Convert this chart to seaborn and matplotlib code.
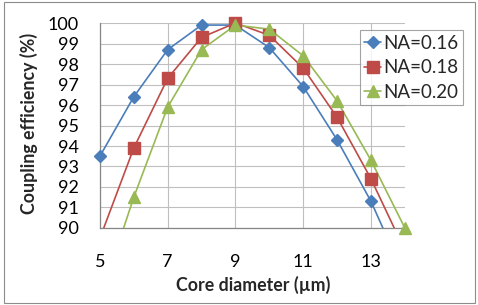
import matplotlib
matplotlib.use("Agg")
import matplotlib.pyplot as plt
import seaborn as sns
import numpy as np
import pandas as pd
from matplotlib.patches import Rectangle

# values
core_diameter = [5, 6, 7, 8, 9, 10, 11, 12, 13, 14]
na_016 = [93.5, 96.4, 98.7, 99.9, 99.9, 98.8, 96.9, 94.3, 91.3, 87.6]
na_018 = [89.5, 93.9, 97.3, 99.3, 100.0, 99.4, 97.8, 95.4, 92.4, 88.9]
na_020 = [86.5, 91.5, 95.9, 98.7, 99.9, 99.7, 98.4, 96.2, 93.3, 90.0]
series_names = ["NA=0.16", "NA=0.18", "NA=0.20"]
x_ticks = [5, 7, 9, 11, 13]
y_ticks = list(range(90, 101))

df = pd.DataFrame({"d": core_diameter, series_names[0]: na_016,
                   series_names[1]: na_018, series_names[2]: na_020})
df = df.melt(id_vars=["d"], var_name="series", value_name="eff")

sns.set_style("white")
plt.rcParams["font.family"] = ["Lato", "DejaVu Sans"]

colors = {"NA=0.16": "#4A7EBB", "NA=0.18": "#BE4B48", "NA=0.20": "#98B954"}
markers = {"NA=0.16": "D", "NA=0.18": "s", "NA=0.20": "^"}
msizes = {"NA=0.16": 6, "NA=0.18": 8, "NA=0.20": 8.5}

fig = plt.figure(figsize=(4.78, 3.05), dpi=100)
ax = fig.add_axes([0.209, 0.2525, 0.638, 0.672])

for name in series_names:
    sub = df[df["series"] == name]
    sns.lineplot(data=sub, x="d", y="eff", ax=ax, color=colors[name],
                 linewidth=1.2, label=None, legend=False)
    vis = sub[sub["eff"] >= 90]
    ax.plot(vis["d"], vis["eff"], linestyle="none", marker=markers[name],
            markersize=msizes[name], color=colors[name], clip_on=False,
            zorder=4)
    # proxy for legend
    ax.plot([], [], color=colors[name], marker=markers[name],
            markersize=msizes[name], linewidth=1.2, label=name)

ax.set_xlim(5, 14)
ax.set_ylim(90, 100)
ax.set_xticks(x_ticks)
ax.set_yticks(y_ticks)
ax.grid(True, color="#bfbfbf", linewidth=0.8)
ax.set_axisbelow(True)
for s in ["top", "right"]:
    ax.spines[s].set_visible(False)
for s in ["left", "bottom"]:
    ax.spines[s].set_color("#868686")
    ax.spines[s].set_linewidth(0.9)
ax.tick_params(axis="x", labelsize=13, length=0, pad=19, colors="black")
ax.tick_params(axis="y", labelsize=13, length=0, pad=15, colors="black")

ax.set_xlabel("Core diameter (\u00b5m)", fontsize=12.8, fontweight="bold")
ax.set_ylabel("Coupling efficiency (%)", fontsize=12.8, fontweight="bold")
ax.xaxis.set_label_coords((253 - 100) / 305, -(285 - 228) / 205)
ax.yaxis.set_label_coords(-(100 - 29) / 305, (228 - 123) / 205)
ax.xaxis.label.set_va("center")
ax.yaxis.label.set_va("center")

leg = ax.legend(loc="upper left", bbox_to_anchor=(0.852, 0.966), fontsize=13.5,
                frameon=True, fancybox=False, handlelength=0.9,
                handletextpad=0.1, borderpad=0.25, labelspacing=0.4,
                borderaxespad=0)
leg.get_frame().set_edgecolor("#8c8c8c")
leg.get_frame().set_linewidth(0.8)

fig.patches.append(Rectangle((0.008, 0.008), 0.986, 0.984, transform=fig.transFigure,
                             fill=False, edgecolor="#8c8c8c", linewidth=0.8))

fig.savefig("out.png", dpi=100)
